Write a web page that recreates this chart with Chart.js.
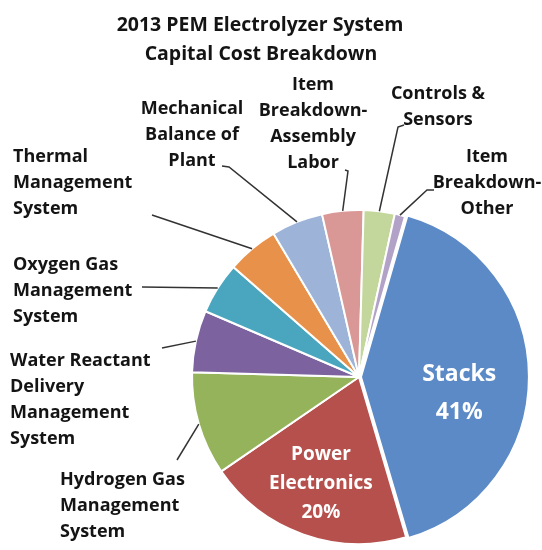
<!DOCTYPE html>
<html>
<head>
<meta charset="utf-8">
<script src="https://cdn.jsdelivr.net/npm/chart.js@4.4.0/dist/chart.umd.min.js"></script>
<style>
  html, body { margin: 0; padding: 0; background: #ffffff; }
  #wrap { width: 542px; height: 550px; position: relative; }
</style>
</head>
<body>
<div id="wrap"><canvas id="c"></canvas></div>
<script>
// data (clockwise, starting with Stacks)
const categories = [
  'Stacks', 'Power Electronics', 'Hydrogen Gas Management System',
  'Water Reactant Delivery Management System', 'Oxygen Gas Management System',
  'Thermal Management System', 'Mechanical Balance of Plant',
  'Item Breakdown-Assembly Labor', 'Controls & Sensors', 'Item Breakdown-Other'
];
const shares = [41, 20, 10, 6, 5, 5, 5, 4, 3, 1];
const titleLines = ['2013 PEM Electrolyzer System', 'Capital Cost Breakdown'];

const sliceColors = ['#5b8ac6', '#b5504d', '#94b35a', '#7c63a0', '#4aa6bf',
  '#e8914a', '#9db4d8', '#d99896', '#c3d69b', '#b3a2c7'];
const explode = [8, 0, 0, 0, 0, 0, 0, 0, 0, 0];

const FONT = '"Open Sans", Lato, sans-serif';

// label placement: inside labels sit at a fraction of the radius,
// outside labels have a text block plus the start of their leader line
const labelLayout = [
  { inside: true, rf: 0.6, dy: 17, size: 23, gap: 38, lines: ['Stacks'] },
  { inside: true, rf: 0.68, dy: 0, size: 19, gap: 29, lines: ['Power', 'Electronics'] },
  { x: 60, y: 480, align: 'left', lines: ['Hydrogen Gas', 'Management', 'System'], lead: [[177, 460]] },
  { x: 10, y: 361, align: 'left', lines: ['Water Reactant', 'Delivery', 'Management', 'System'], lead: [[162, 348]] },
  { x: 13, y: 265, align: 'left', lines: ['Oxygen Gas', 'Management', 'System'], lead: [[142, 287]] },
  { x: 13, y: 157, align: 'left', lines: ['Thermal', 'Management', 'System'], lead: [[152, 215]] },
  { x: 192, y: 109, align: 'center', lines: ['Mechanical', 'Balance of', 'Plant'], lead: [[222, 166], [229, 167]] },
  { x: 313, y: 85, align: 'center', lines: ['Item', 'Breakdown-', 'Assembly', 'Labor'], lead: [[345, 170], [348, 171]] },
  { x: 438, y: 94, align: 'center', lines: ['Controls &', 'Sensors'], lead: [[404, 125], [398, 127]] },
  { x: 487, y: 157, align: 'center', lines: ['Item', 'Breakdown-', 'Other'], lead: [[434, 190], [427, 190]] }
];

const total = shares.reduce((a, b) => a + b, 0);

const pieLabels = {
  id: 'pieLabels',
  afterDraw(chart) {
    const ctx = chart.ctx;
    const arcs = chart.getDatasetMeta(0).data;
    ctx.save();

    // title
    ctx.fillStyle = '#141414';
    ctx.font = 'bold 19.5px ' + FONT;
    ctx.textAlign = 'center';
    ctx.textBaseline = 'middle';
    ctx.fillText(titleLines[0], 260, 25);
    ctx.fillText(titleLines[1], 261, 54);

    arcs.forEach((arc, i) => {
      const lay = labelLayout[i];
      const p = arc.getProps(['x', 'y', 'startAngle', 'endAngle', 'outerRadius'], true);
      const mid = (p.startAngle + p.endAngle) / 2;
      const pct = Math.round(shares[i] / total * 100) + '%';

      if (lay.inside) {
        const lines = lay.lines.concat([pct]);
        const cx = p.x + Math.cos(mid) * p.outerRadius * lay.rf;
        const cy = p.y + Math.sin(mid) * p.outerRadius * lay.rf + lay.dy;
        ctx.fillStyle = '#ffffff';
        ctx.font = 'bold ' + lay.size + 'px ' + FONT;
        ctx.textAlign = 'center';
        const y0 = cy - (lines.length - 1) * lay.gap / 2;
        lines.forEach((t, k) => ctx.fillText(t, cx, y0 + k * lay.gap));
        return;
      }

      // leader line from the text to the slice edge
      const ax = p.x + Math.cos(mid) * p.outerRadius;
      const ay = p.y + Math.sin(mid) * p.outerRadius;
      ctx.strokeStyle = '#333333';
      ctx.lineWidth = 1.5;
      ctx.beginPath();
      lay.lead.forEach((pt, k) => k ? ctx.lineTo(pt[0], pt[1]) : ctx.moveTo(pt[0], pt[1]));
      ctx.lineTo(ax, ay);
      ctx.stroke();

      ctx.fillStyle = '#141414';
      ctx.font = 'bold 18px ' + FONT;
      ctx.textAlign = lay.align;
      lay.lines.forEach((t, k) => ctx.fillText(t, lay.x, lay.y + k * 26));
    });
    ctx.restore();
  }
};

new Chart(document.getElementById('c'), {
  type: 'pie',
  data: {
    labels: categories,
    datasets: [{
      data: shares,
      backgroundColor: sliceColors,
      borderColor: '#ffffff',
      borderWidth: 2,
      offset: explode
    }]
  },
  options: {
    responsive: true,
    maintainAspectRatio: false,
    animation: false,
    rotation: 16,
    layout: { padding: { left: 187, right: 11, top: 205, bottom: 1 } },
    plugins: {
      legend: { display: false },
      title: { display: false },
      tooltip: { enabled: false }
    }
  },
  plugins: [pieLabels]
});
</script>
</body>
</html>
